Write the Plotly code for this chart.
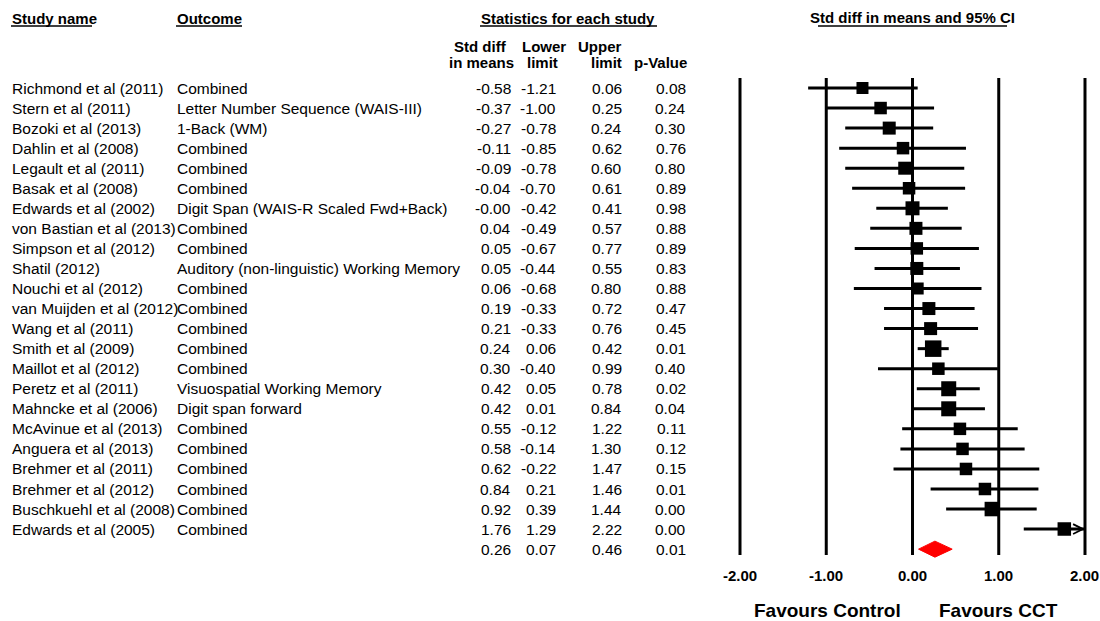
import plotly.graph_objects as go

# ---- data ---------------------------------------------------------------
studies = [
    "Richmond et al (2011)", "Stern et al (2011)", "Bozoki et al (2013)",
    "Dahlin et al (2008)", "Legault et al (2011)", "Basak et al (2008)",
    "Edwards et al (2002)", "von Bastian et al (2013)", "Simpson et al (2012)",
    "Shatil (2012)", "Nouchi et al (2012)", "van Muijden et al (2012)",
    "Wang et al (2011)", "Smith et al (2009)", "Maillot et al (2012)",
    "Peretz et al (2011)", "Mahncke et al (2006)", "McAvinue et al (2013)",
    "Anguera et al (2013)", "Brehmer et al (2011)", "Brehmer et al (2012)",
    "Buschkuehl et al (2008)", "Edwards et al (2005)",
]
outcomes = [
    "Combined", "Letter Number Sequence (WAIS-III)", "1-Back (WM)",
    "Combined", "Combined", "Combined",
    "Digit Span (WAIS-R Scaled Fwd+Back)", "Combined", "Combined",
    "Auditory (non-linguistic) Working Memory", "Combined", "Combined",
    "Combined", "Combined", "Combined",
    "Visuospatial Working Memory", "Digit span forward", "Combined",
    "Combined", "Combined", "Combined",
    "Combined", "Combined",
]
std_diff = [-0.58, -0.37, -0.27, -0.11, -0.09, -0.04, -0.00, 0.04, 0.05, 0.05,
            0.06, 0.19, 0.21, 0.24, 0.30, 0.42, 0.42, 0.55, 0.58, 0.62,
            0.84, 0.92, 1.76]
lower = [-1.21, -1.00, -0.78, -0.85, -0.78, -0.70, -0.42, -0.49, -0.67, -0.44,
         -0.68, -0.33, -0.33, 0.06, -0.40, 0.05, 0.01, -0.12, -0.14, -0.22,
         0.21, 0.39, 1.29]
upper = [0.06, 0.25, 0.24, 0.62, 0.60, 0.61, 0.41, 0.57, 0.77, 0.55,
         0.80, 0.72, 0.76, 0.42, 0.99, 0.78, 0.84, 1.22, 1.30, 1.47,
         1.46, 1.44, 2.22]
p_value = [0.08, 0.24, 0.30, 0.76, 0.80, 0.89, 0.98, 0.88, 0.89, 0.83,
           0.88, 0.47, 0.45, 0.01, 0.40, 0.02, 0.04, 0.11, 0.12, 0.15,
           0.01, 0.00, 0.00]

# pooled (summary) estimate
pooled_diff = 0.26
pooled_lower = 0.07
pooled_upper = 0.46
pooled_p = 0.01

axis_ticks = [-2, -1, 0, 1, 2]
axis_ticktext = ["-2.00", "-1.00", "0.00", "1.00", "2.00"]
x_min, x_max = -2.0, 2.0

# ---- styling -------------------------------------------------------------
# square side in px (reflects each study's weight)
square_px = [12, 12.5, 13, 12.5, 13, 12.5, 14, 13, 12.5, 13,
             12, 13, 13, 16.5, 12.5, 15, 15, 12.5, 12.5, 12.5,
             12.5, 14.5, 13.5]

W, H = 1100, 621
FONT = "Liberation Sans, Arial, sans-serif"
ROW0_PX = 88.0      # centre of first row
ROW_PX = 20.05      # row pitch
FS = 15.5

n = len(studies)
rows = list(range(n))
summary_row = n

fig = go.Figure()

# confidence-interval lines, clipped to the axis range
ci_x, ci_y = [], []
for r, lo, hi in zip(rows, lower, upper):
    ci_x += [max(lo, x_min), min(hi, x_max), None]
    ci_y += [r, r, None]
fig.add_trace(go.Scatter(x=ci_x, y=ci_y, mode="lines",
                         line=dict(color="black", width=3),
                         hoverinfo="skip", showlegend=False))

# point estimates
fig.add_trace(go.Scatter(x=std_diff, y=rows, mode="markers",
                         marker=dict(symbol="square", size=square_px,
                                     color="black", opacity=1,
                                     line=dict(width=0)),
                         showlegend=False))

# summary diamond
half_h = 0.4
fig.add_trace(go.Scatter(
    x=[pooled_lower, pooled_diff, pooled_upper, pooled_diff, pooled_lower],
    y=[summary_row, summary_row - half_h, summary_row,
       summary_row + half_h, summary_row],
    mode="lines", fill="toself", fillcolor="#ff0000",
    line=dict(color="#ff0000", width=1), showlegend=False, hoverinfo="skip"))

# arrows where the interval runs past the axis
for r, lo, hi in zip(rows, lower, upper):
    if hi > x_max:
        fig.add_annotation(x=x_max, y=r, xref="x", yref="y",
                           ax=x_max - 0.15, ay=r, axref="x", ayref="y",
                           showarrow=True, arrowhead=5, arrowsize=1.6,
                           arrowwidth=1.2, arrowcolor="black", text="")

# vertical reference lines
bottom_row = (555 - ROW0_PX) / ROW_PX
for v in axis_ticks:
    fig.add_shape(type="line", xref="x", yref="y", x0=v, x1=v,
                  y0=-0.5, y1=bottom_row, layer="below",
                  line=dict(color="black", width=3))


def ann(text, x_px, y, anchor="left", size=FS, bold=False, yref="y"):
    if bold:
        text = f"<b>{text}</b>"
    fig.add_annotation(x=x_px / W, y=y, xref="paper", yref=yref,
                       text=text, showarrow=False, xanchor=anchor,
                       yanchor="middle", borderpad=0,
                       font=dict(family=FONT, size=size, color="black"))


def fmt(v):
    return f"{v:.2f}"


# table body
for r in rows:
    ann(studies[r], 11, r)
    ann(outcomes[r], 176, r)
    ann(fmt(std_diff[r]), 512, r, "right")
    ann(fmt(lower[r]), 557, r, "right")
    ann(fmt(upper[r]), 623, r, "right")
    ann(fmt(p_value[r]), 687, r, "right")

ann(fmt(pooled_diff), 512, summary_row, "right")
ann(fmt(pooled_lower), 557, summary_row, "right")
ann(fmt(pooled_upper), 623, summary_row, "right")
ann(fmt(pooled_p), 687, summary_row, "right")


def py(px):
    return 1 - px / H


# headers
HFS = 15
ann("Study name", 11, py(18), size=HFS, bold=True, yref="paper")
ann("Outcome", 176, py(18), size=HFS, bold=True, yref="paper")
ann("Statistics for each study", 568, py(18), "center", size=HFS, bold=True, yref="paper")
ann("Std diff in means and 95% CI", 912, py(17), "center", size=HFS, bold=True, yref="paper")
ann("Std diff", 480, py(46), "center", size=HFS, bold=True, yref="paper")
ann("in means", 481, py(62), "center", size=HFS, bold=True, yref="paper")
ann("Lower", 544, py(46), "center", size=HFS, bold=True, yref="paper")
ann("limit", 542, py(62), "center", size=HFS, bold=True, yref="paper")
ann("Upper", 623, py(46), "right", size=HFS, bold=True, yref="paper")
ann("limit", 623, py(62), "right", size=HFS, bold=True, yref="paper")
ann("p-Value", 688, py(62), "right", size=HFS, bold=True, yref="paper")

# header underlines
for x0, x1 in [(11, 92), (176, 242), (480, 657), (818, 1007)]:
    fig.add_shape(type="line", xref="paper", yref="paper",
                  x0=x0 / W, x1=x1 / W, y0=py(26), y1=py(26),
                  line=dict(color="black", width=1.5))

# axis tick labels
for v, t in zip(axis_ticks, axis_ticktext):
    fig.add_annotation(x=v, y=py(575), xref="x", yref="paper", text=f"<b>{t}</b>",
                       showarrow=False, xanchor="center", yanchor="middle",
                       font=dict(family=FONT, size=15, color="black"))

ann("Favours Control", 827, py(610), "center", size=19, bold=True, yref="paper")
ann("Favours CCT", 998, py(610), "center", size=19, bold=True, yref="paper")

# axes: pixel-aligned scales
px_per_unit = (1085 - 740) / 4.0
x_lo_px = 912.5 - 2.06 * px_per_unit
x_hi_px = 912.5 + 2.06 * px_per_unit
fig.update_xaxes(range=[-2.06, 2.06], domain=[x_lo_px / W, x_hi_px / W],
                 visible=False, fixedrange=True)
y_top = -ROW0_PX / ROW_PX
y_bottom = (H - ROW0_PX) / ROW_PX
fig.update_yaxes(range=[y_bottom, y_top], domain=[0, 1], visible=False,
                 fixedrange=True)

fig.update_layout(width=W, height=H, margin=dict(l=0, r=0, t=0, b=0),
                  paper_bgcolor="white", plot_bgcolor="white",
                  showlegend=False, font=dict(family=FONT))

fig.write_html("out.html")
